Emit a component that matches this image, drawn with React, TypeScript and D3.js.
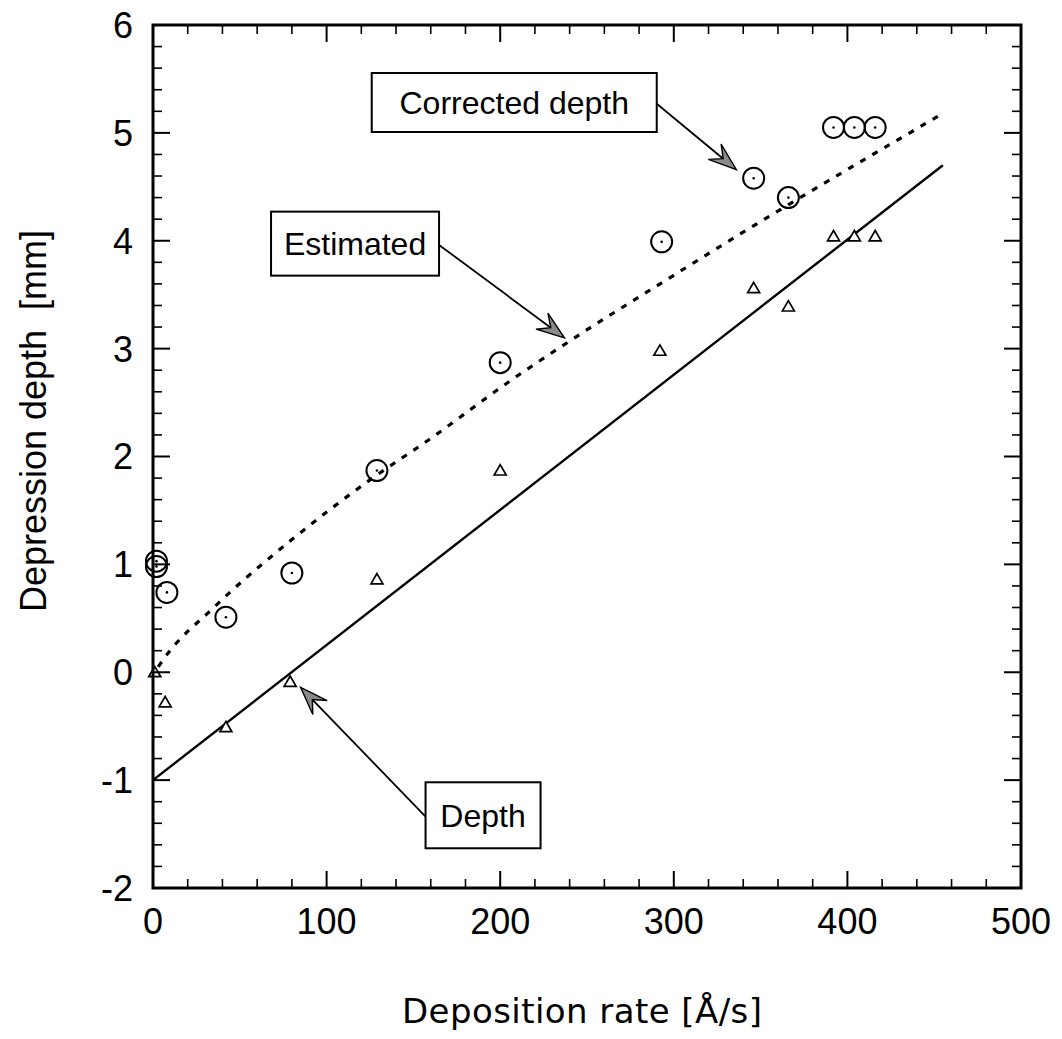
import React from 'react';
import * as d3 from 'd3';

const rateCorrected = [2, 2, 8, 42, 80, 129, 200, 293, 346, 366, 392, 404, 416];
const depthCorrected = [1.03, 0.98, 0.74, 0.51, 0.92, 1.87, 2.87, 3.99, 4.58, 4.4, 5.05, 5.05, 5.05];

const rateMeasured = [1, 7, 42, 79, 129, 200, 292, 346, 366, 392, 404, 416];
const depthMeasured = [0.0, -0.28, -0.51, -0.09, 0.86, 1.87, 2.98, 3.56, 3.39, 4.04, 4.04, 4.04];

// estimated curve (dotted)
const rateEstimated = [3, 6, 35, 80, 123, 162, 203, 240, 300, 339, 377, 455];
const depthEstimated = [0.05, 0.12, 0.6, 1.23, 1.76, 2.19, 2.67, 3.07, 3.68, 4.07, 4.44, 5.18];

// fitted depth line (solid)
const rateFit = [0, 455];
const depthFit = [-1, 4.7];

const xTicks = [0, 100, 200, 300, 400, 500];
const yTicks = [-2, -1, 0, 1, 2, 3, 4, 5, 6];

// annotation boxes: label, box corner (data), arrow tip (data)
const noteLabels = ['Corrected depth', 'Estimated', 'Depth'];
const noteX = [126, 68, 157];
const noteY = [5.555, 4.27, -1.02];
const noteW = [285, 168, 115];
const noteH = [59, 64, 66];
const tipX = [336, 237, 85];
const tipY = [4.66, 3.1, -0.14];
const fromLeft = [false, false, true];

const W = 1062;
const H = 1039;
const left = 153;
const right = 1021;
const top = 25;
const bottom = 888;

function Arrow({ x1, y1, x2, y2 }: { x1: number; y1: number; x2: number; y2: number }) {
  const ang = Math.atan2(y2 - y1, x2 - x1);
  const len = 28;
  const half = 10;
  const notch = 17;
  const ux = Math.cos(ang);
  const uy = Math.sin(ang);
  const px = -uy;
  const py = ux;
  const bx = x2 - ux * len;
  const by = y2 - uy * len;
  const nx = x2 - ux * notch;
  const ny = y2 - uy * notch;
  const head = `M${x2},${y2} L${bx + px * half},${by + py * half} L${nx},${ny} L${bx - px * half},${by - py * half} Z`;
  return (
    <g>
      <line x1={x1} y1={y1} x2={nx} y2={ny} stroke="#000" strokeWidth={1.8} />
      <path d={head} fill="#8a8a8a" stroke="#000" strokeWidth={1.4} strokeLinejoin="miter" />
    </g>
  );
}

export default function App() {
  const x = d3.scaleLinear().domain([0, 500]).range([left, right]);
  const y = d3.scaleLinear().domain([-2, 6]).range([bottom, top]);

  const xMinor = d3.range(0, 501, 20).filter((v) => v % 100 !== 0);
  const yMinor = d3.range(-2, 6.001, 0.2).filter((v) => Math.abs(Math.round(v) - v) > 0.01);

  const curveGen = d3
    .line<[number, number]>()
    .x((d) => x(d[0]))
    .y((d) => y(d[1]))
    .curve(d3.curveMonotoneX);

  const fitPts = rateFit.map((r, i) => [r, depthFit[i]] as [number, number]);
  const estPts = rateEstimated.map((r, i) => [r, depthEstimated[i]] as [number, number]);

  const fitPath = d3
    .line<[number, number]>()
    .x((d) => x(d[0]))
    .y((d) => y(d[1]))(fitPts);
  const estPath = curveGen(estPts);

  const tri = d3.symbol().type(d3.symbolTriangle).size(62)();

  const major = 17;
  const minor = 9;
  const sans = "'Liberation Sans', Arial, sans-serif";

  return (
    <svg width={W} height={H} style={{ position: 'absolute', left: 0, top: 0, background: '#fff' }}>
      <rect width={W} height={H} fill="#fff" />

      {/* fitted lines */}
      <path d={fitPath || ''} fill="none" stroke="#000" strokeWidth={2.4} />
      <path d={estPath || ''} fill="none" stroke="#000" strokeWidth={3.2} strokeDasharray="6 8" />

      {/* triangles */}
      {rateMeasured.map((r, i) => (
        <path
          key={'t' + i}
          d={tri || ''}
          transform={`translate(${x(r)},${y(depthMeasured[i]) + 1})`}
          fill="#fff"
          stroke="#000"
          strokeWidth={1.7}
        />
      ))}

      {/* circles */}
      {rateCorrected.map((r, i) => (
        <g key={'c' + i} transform={`translate(${x(r)},${y(depthCorrected[i])})`}>
          <circle r={10.5} fill="none" stroke="#000" strokeWidth={2} />
          <circle r={1.3} fill="#000" />
        </g>
      ))}

      {/* frame */}
      <rect x={left} y={top} width={right - left} height={bottom - top} fill="none" stroke="#000" strokeWidth={3} />

      {/* x ticks */}
      {xTicks.map((t) => (
        <g key={'xt' + t}>
          <line x1={x(t)} x2={x(t)} y1={bottom} y2={bottom - major} stroke="#000" strokeWidth={2} />
          <line x1={x(t)} x2={x(t)} y1={top} y2={top + major} stroke="#000" strokeWidth={2} />
          <text x={x(t)} y={934} textAnchor="middle" fontFamily={sans} fontSize={36} fill="#000">
            {t}
          </text>
        </g>
      ))}
      {xMinor.map((t) => (
        <g key={'xm' + t}>
          <line x1={x(t)} x2={x(t)} y1={bottom} y2={bottom - minor} stroke="#000" strokeWidth={1.6} />
          <line x1={x(t)} x2={x(t)} y1={top} y2={top + minor} stroke="#000" strokeWidth={1.6} />
        </g>
      ))}

      {/* y ticks */}
      {yTicks.map((t) => (
        <g key={'yt' + t}>
          <line x1={left} x2={left + major} y1={y(t)} y2={y(t)} stroke="#000" strokeWidth={2} />
          <line x1={right} x2={right - major} y1={y(t)} y2={y(t)} stroke="#000" strokeWidth={2} />
          <text x={133} y={y(t)} dy="0.36em" textAnchor="end" fontFamily={sans} fontSize={36} fill="#000">
            {t}
          </text>
        </g>
      ))}
      {yMinor.map((t, i) => (
        <g key={'ym' + i}>
          <line x1={left} x2={left + minor} y1={y(t)} y2={y(t)} stroke="#000" strokeWidth={1.6} />
          <line x1={right} x2={right - minor} y1={y(t)} y2={y(t)} stroke="#000" strokeWidth={1.6} />
        </g>
      ))}

      {/* axis titles */}
      <text
        x={402}
        y={1023}
        fontFamily="'DejaVu Sans', Verdana, sans-serif"
        fontSize={34}
        textLength={360}
        lengthAdjust="spacing"
        fill="#000"
      >
        Deposition rate [Å/s]
      </text>
      <text
        transform={`translate(46,421) rotate(-90)`}
        textAnchor="middle"
        fontFamily={sans}
        fontSize={36}
        fill="#000"
        style={{ whiteSpace: 'pre' }}
      >
        {'Depression depth  [mm]'}
      </text>

      {/* annotations */}
      {noteLabels.map((lab, i) => {
        const bx = x(noteX[i]);
        const by = y(noteY[i]);
        const w = noteW[i];
        const h = noteH[i];
        const sx = fromLeft[i] ? bx : bx + w;
        const sy = by + h * 0.52;
        return (
          <g key={'n' + i}>
            <rect x={bx} y={by} width={w} height={h} fill="#fff" stroke="#000" strokeWidth={2} />
            <text
              x={bx + w / 2}
              y={by + h / 2}
              dy="0.36em"
              textAnchor="middle"
              fontFamily={sans}
              fontSize={32}
              fill="#000"
            >
              {lab}
            </text>
            <Arrow x1={sx} y1={sy} x2={x(tipX[i])} y2={y(tipY[i])} />
          </g>
        );
      })}
    </svg>
  );
}
